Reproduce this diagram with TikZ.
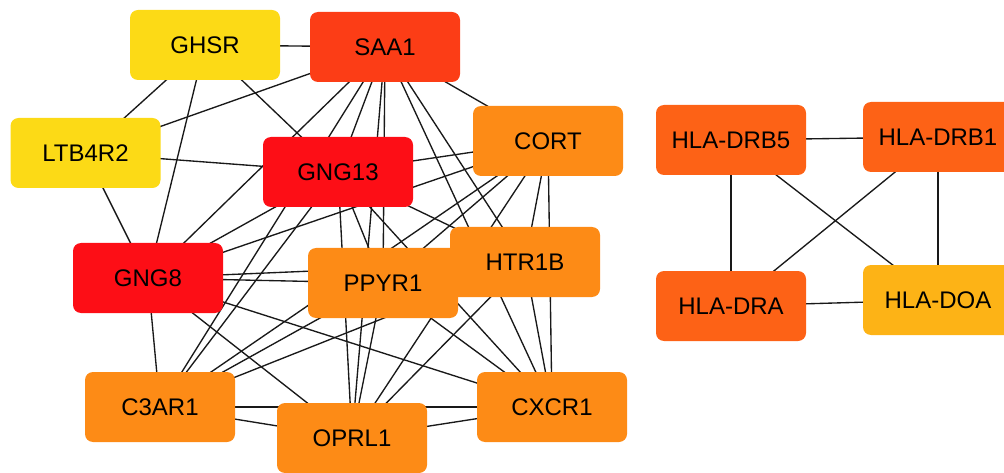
\documentclass[tikz,border=0pt]{standalone}
\usepackage{fontspec}
\setmainfont{Liberation Sans}
\usetikzlibrary{backgrounds}
\definecolor{cyel}{RGB}{252,218,22}
\definecolor{csaa}{RGB}{252,61,22}
\definecolor{cred}{RGB}{253,14,22}
\definecolor{corg}{RGB}{253,139,22}
\definecolor{chla}{RGB}{253,98,22}
\definecolor{cdoa}{RGB}{253,179,22}
\tikzset{
  gene/.style={rectangle, rounded corners=8pt, minimum width=150pt, minimum height=70pt,
    inner sep=0pt, draw=none, font=\fontsize{24}{28}\selectfont, text=black},
  link/.style={draw=black!90, line width=1.35pt}
}
\begin{document}
\begin{tikzpicture}[x=1pt,y=-1pt]
\useasboundingbox (0,0) rectangle (1004,473);
\node[gene, fill=cyel] (ghsr) at (205,45) {GHSR};
\node[gene, fill=csaa] (saa1) at (385,47) {SAA1};
\node[gene, fill=cyel] (ltb) at (85.5,153) {LTB4R2};
\node[gene, fill=cred] (gng13) at (338,172) {GNG13};
\node[gene, fill=corg] (cort) at (548,141) {CORT};
\node[gene, fill=cred] (gng8) at (148,278) {GNG8};
\node[gene, fill=corg] (ppyr1) at (383,283) {PPYR1};
\node[gene, fill=corg] (htr1b) at (525,262) {HTR1B};
\node[gene, fill=corg] (c3ar1) at (160,407) {C3AR1};
\node[gene, fill=corg] (oprl1) at (352,438) {OPRL1};
\node[gene, fill=corg] (cxcr1) at (552,407) {CXCR1};
\node[gene, fill=chla] (drb5) at (731,140) {HLA-DRB5};
\node[gene, fill=chla] (drb1) at (938,137) {HLA-DRB1};
\node[gene, fill=chla] (dra) at (731,306) {HLA-DRA};
\node[gene, fill=cdoa] (doa) at (938,300) {HLA-DOA};
\begin{scope}[on background layer]
\foreach \a/\b in {ghsr/saa1, ghsr/ltb, ghsr/gng8, ghsr/gng13,
  ltb/saa1, ltb/gng13, ltb/gng8,
  saa1/gng13, saa1/gng8, saa1/c3ar1, saa1/ppyr1, saa1/oprl1, saa1/cxcr1, saa1/htr1b, saa1/cort,
  gng13/gng8, gng13/cort, gng13/c3ar1, gng13/ppyr1, gng13/oprl1, gng13/htr1b, gng13/cxcr1,
  gng8/cort, gng8/ppyr1, gng8/htr1b, gng8/cxcr1, gng8/oprl1, gng8/c3ar1,
  cort/c3ar1, cort/ppyr1, cort/oprl1, cort/htr1b, cort/cxcr1,
  c3ar1/ppyr1, c3ar1/htr1b, c3ar1/oprl1, c3ar1/cxcr1,
  oprl1/cxcr1, oprl1/htr1b, oprl1/ppyr1,
  cxcr1/ppyr1, cxcr1/htr1b, ppyr1/htr1b,
  drb5/drb1, drb5/dra, drb5/doa, drb1/dra, drb1/doa, dra/doa}
  \draw[link] (\a.center) -- (\b.center);
\end{scope}
\end{tikzpicture}
\end{document}
